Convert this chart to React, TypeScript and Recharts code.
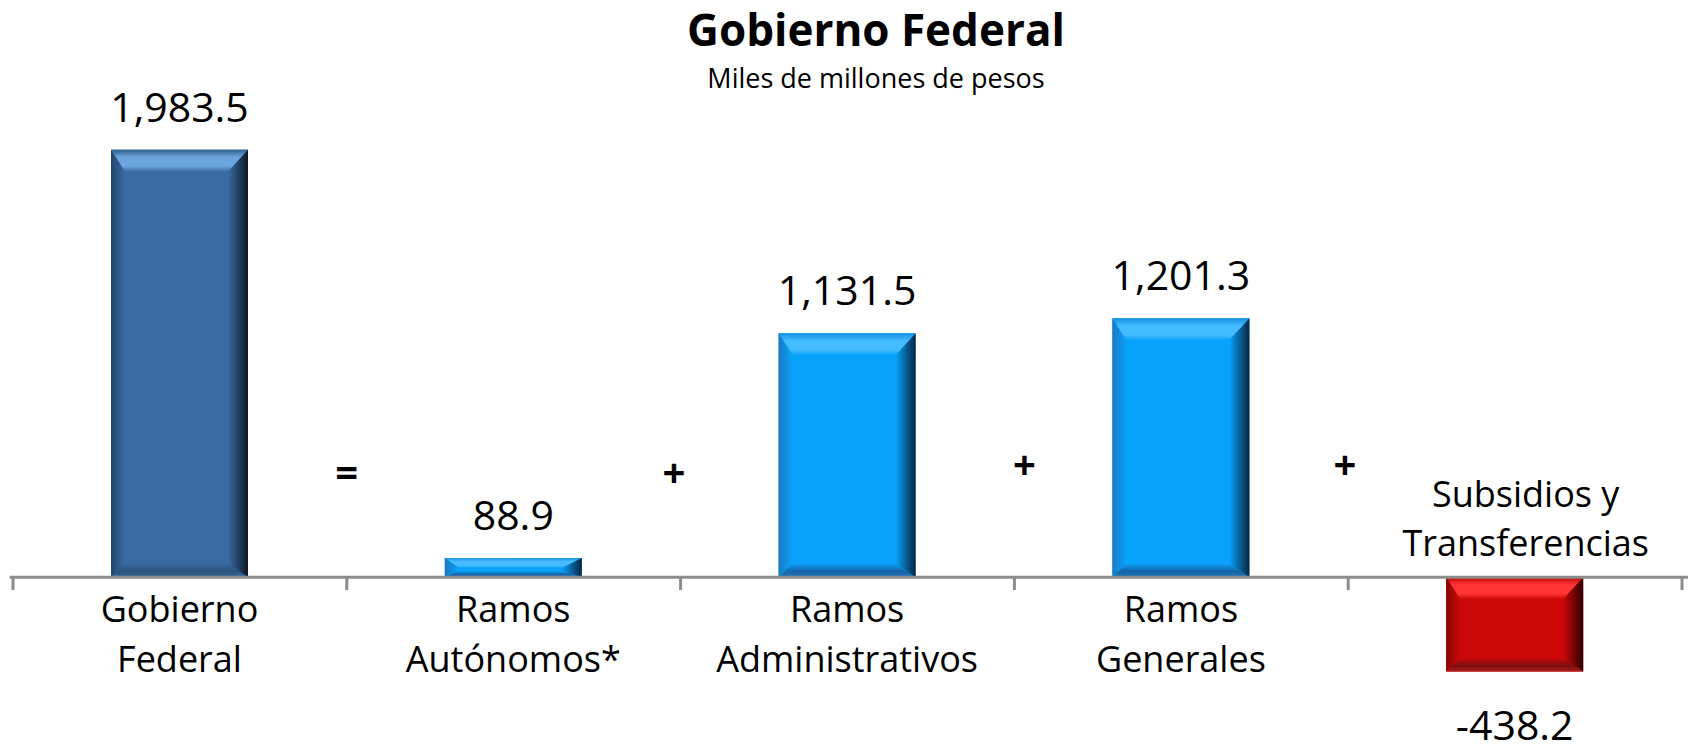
import React from "react";
import {
  BarChart,
  Bar,
  XAxis,
  YAxis,
  LabelList,
  ReferenceLine,
  ReferenceDot,
} from "recharts";

const categories = [
  "Gobierno Federal",
  "Ramos Autónomos*",
  "Ramos Administrativos",
  "Ramos Generales",
  "Subsidios y Transferencias",
];
const labelLines = [
  ["Gobierno", "Federal"],
  ["Ramos", "Autónomos*"],
  ["Ramos", "Administrativos"],
  ["Ramos", "Generales"],
  ["Subsidios y", "Transferencias"],
];
const values = [1983.5, 88.9, 1131.5, 1201.3, -438.2];
const barKinds = ["total", "part", "part", "part", "negative"];
const operators = ["=", "+", "+", "+"];

// where the operators sit: x in category-boundary units, y in data units
const OP_X = [1, 1.98, 3.03, 3.99];
const OP_Y = [492, 492, 525, 525];
const TICK_X = [0, 1, 2, 3, 4, 5];

const FONT = '"Open Sans", sans-serif';
const AXIS_GRAY = "#8c8c8c";

const PALETTE: Record<string, any> = {
  total: { base: "#386ca2", topEdge: "#2f5f90", light: "#6aa6dd", edgeL: "#23466b", edgeR: "#0e1824", dark: "#2a527c", dark2: "#3a6a9a" },
  part: { base: "#09a2fa", topEdge: "#1690e0", light: "#45bcff", edgeL: "#1a78c0", edgeR: "#07243e", dark: "#1763a4", dark2: "#1d78c0" },
  negative: { base: "#cc0808", topEdge: "#c00606", light: "#ff3434", edgeL: "#880404", edgeR: "#2c0000", dark: "#7a0e0e", dark2: "#b01c1c" },
};

// pos = category centre on the 0..5 boundary scale
const data = categories.map((name, i) => ({ name, pos: i + 0.5, value: values[i], kind: barKinds[i] }));

const fmt = (v: number) =>
  v.toLocaleString("en-US", { minimumFractionDigits: 1, maximumFractionDigits: 1 });

function BevelBar(props: any) {
  const { x, y, width, height, payload, index } = props;
  const c = PALETTE[payload?.kind ?? "part"];
  const top = Math.min(y, y + height);
  const bot = Math.max(y, y + height);
  const h = bot - top;
  const w = width;
  const f = Math.min(1, h / 42);
  const bt = 22 * f;
  const bb = 14 * f;
  const bl = 14;
  const br = 20;
  const id = `bev${index}`;
  const pts = (arr: number[][]) => arr.map((p) => p.join(",")).join(" ");
  return (
    <g>
      <defs>
        <linearGradient id={id + "t"} x1="0" y1="0" x2="0" y2="1">
          <stop offset="0" stopColor={c.topEdge} />
          <stop offset="0.35" stopColor={c.light} />
          <stop offset="0.75" stopColor={c.light} />
          <stop offset="1" stopColor={c.base} />
        </linearGradient>
        <linearGradient id={id + "l"} x1="0" y1="0" x2="1" y2="0">
          <stop offset="0" stopColor={c.edgeL} />
          <stop offset="1" stopColor={c.base} />
        </linearGradient>
        <linearGradient id={id + "r"} x1="0" y1="0" x2="1" y2="0">
          <stop offset="0" stopColor={c.base} />
          <stop offset="1" stopColor={c.edgeR} />
        </linearGradient>
        <linearGradient id={id + "b"} x1="0" y1="0" x2="0" y2="1">
          <stop offset="0" stopColor={c.base} />
          <stop offset="0.6" stopColor={c.dark} />
          <stop offset="1" stopColor={c.dark2} />
        </linearGradient>
      </defs>
      <rect x={x} y={top} width={w} height={h} fill={c.base} />
      <polygon
        points={pts([[x, top], [x + w, top], [x + w - br, top + bt], [x + bl, top + bt]])}
        fill={`url(#${id}t)`}
      />
      <polygon
        points={pts([[x, bot], [x + bl, bot - bb], [x + w - br, bot - bb], [x + w, bot]])}
        fill={`url(#${id}b)`}
      />
      <polygon
        points={pts([[x, top], [x + bl, top + bt], [x + bl, bot - bb], [x, bot]])}
        fill={`url(#${id}l)`}
      />
      <polygon
        points={pts([[x + w, top], [x + w - br, top + bt], [x + w - br, bot - bb], [x + w, bot]])}
        fill={`url(#${id}r)`}
      />
    </g>
  );
}

function ValueLabel(props: any) {
  const { x, y, width, height, value } = props;
  const top = Math.min(y, y + height);
  const bot = Math.max(y, y + height);
  const cx = x + width / 2;
  const ty = value >= 0 ? top - 28 : bot + 68;
  return (
    <text x={cx} y={ty} textAnchor="middle" fontFamily={FONT} fontSize={41} fill="#000">
      {fmt(value)}
    </text>
  );
}

function CategoryLabel(props: any) {
  const { x, y, width, height, value } = props;
  const i = categories.indexOf(value);
  const v = values[i];
  const top = Math.min(y, y + height);
  const bot = Math.max(y, y + height);
  const zero = v >= 0 ? bot : top;
  const cx = x + width / 2 + (v >= 0 ? 0 : 11);
  const offsets = v >= 0 ? [44.5, 94.5] : [-70, -21];
  return (
    <g>
      {labelLines[i].map((line, k) => (
        <text
          key={k}
          x={cx}
          y={zero + offsets[k]}
          textAnchor="middle"
          fontFamily={FONT}
          fontSize={36}
          fill="#000"
        >
          {line}
        </text>
      ))}
    </g>
  );
}

export default function App() {
  return (
    <div style={{ position: "absolute", left: 0, top: 0, width: 1688, height: 748, background: "#fff" }}>
      <svg
        width={1688}
        height={110}
        style={{ position: "absolute", left: 0, top: 0, pointerEvents: "none" }}
      >
        <text x={876} y={46} textAnchor="middle" fontFamily={FONT} fontWeight={700} fontSize={44} fill="#000">
          Gobierno Federal
        </text>
        <text x={876} y={88} textAnchor="middle" fontFamily={FONT} fontSize={27} fill="#000">
          Miles de millones de pesos
        </text>
      </svg>
      <BarChart
        width={1688}
        height={748}
        data={data}
        margin={{ top: 103, right: 6, bottom: 20, left: 13 }}
      >
        <XAxis xAxisId="cat" dataKey="name" hide />
        <XAxis
          xAxisId="num"
          dataKey="pos"
          type="number"
          domain={[0, 5]}
          allowDataOverflow
          padding={{ left: 0, right: 0 }}
          hide
        />
        <YAxis hide domain={[-700, 2200]} />
        <Bar
          xAxisId="cat"
          dataKey="value"
          barSize={137}
          shape={BevelBar}
          isAnimationActive={false}
        >
          <LabelList dataKey="value" content={ValueLabel} />
          <LabelList dataKey="name" content={CategoryLabel} />
        </Bar>
        <ReferenceLine
          xAxisId="num"
          segment={[{ x: -0.01, y: 0 }, { x: 5.02, y: 0 }]}
          stroke={AXIS_GRAY}
          strokeWidth={3}
          ifOverflow="visible"
        />
        {TICK_X.map((t) => (
          <ReferenceLine
            key={t}
            xAxisId="num"
            segment={[{ x: t, y: 0 }, { x: t, y: -60 }]}
            stroke={AXIS_GRAY}
            strokeWidth={3}
            ifOverflow="visible"
          />
        ))}
        {operators.map((op, i) => (
          <ReferenceDot
            key={i}
            xAxisId="num"
            x={OP_X[i]}
            y={OP_Y[i]}
            r={0}
            ifOverflow="visible"
            shape={(p: any) => (
              <text
                x={p.cx}
                y={p.cy}
                textAnchor="middle"
                dominantBaseline="central"
                fontFamily={FONT}
                fontWeight={700}
                fontSize={40}
                fill="#000"
              >
                {op}
              </text>
            )}
          />
        ))}
      </BarChart>
    </div>
  );
}
